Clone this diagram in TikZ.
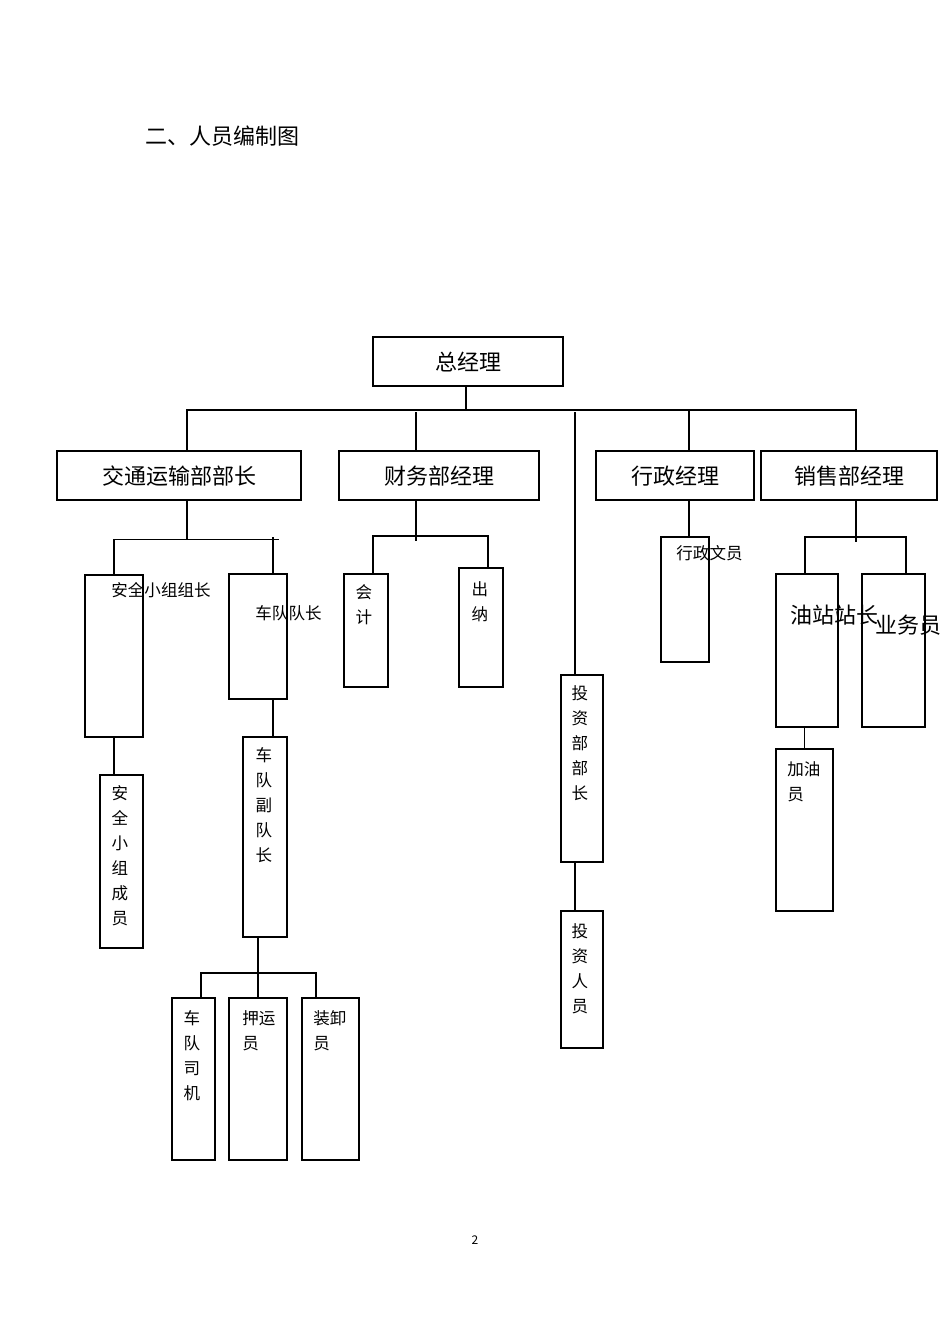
\documentclass[tikz,border=0pt]{standalone}
\usepackage{fontspec}
\setmainfont{Noto Sans CJK SC}
\newcommand{\bigf}{\fontsize{16.5}{20}\selectfont}
\newcommand{\smf}{\fontsize{12.4}{18.75}\selectfont}
\begin{document}
\begin{tikzpicture}[x=0.75pt,y=-0.75pt,
  box/.style 2 args={draw,line width=1pt,rectangle,inner sep=0pt,minimum width=#1*0.75pt,minimum height=#2*0.75pt},
  head/.style={font=\bigf,text height=1.45em,text depth=0.05em},
  lbl/.style={inner sep=0pt,font=\smf,align=center},
  big/.style={inner sep=0pt,font=\bigf},
  thn/.style={line width=0.8pt},
  thk/.style={line width=1.4pt}]
\fill[white] (0,0) rectangle (950,1344);
\useasboundingbox (0,0) rectangle (950,1344);
% title
\node[big,anchor=west] (title) at (145,136) {二、人员编制图};
% level 1
\node[box={190}{49},head] (zjl) at (468,361.5) {总经理};
% level 2
\node[box={244}{49},head] (jt) at (179,475.5) {交通运输部部长};
\node[box={200}{49},head] (cw) at (439,475.5) {财务部经理};
\node[box={158}{49},head] (xz) at (675,475.5) {行政经理};
\node[box={176}{49},head] (xs) at (849,475.5) {销售部经理};
% level 3 boxes
\node[box={58}{162}] (aqzz) at (114,656) {};
\node[box={58}{125}] (cdz) at (258,636.5) {};
\node[box={44}{113}] (kj) at (366,630.5) {};
\node[box={44}{119}] (cn) at (481,627.5) {};
\node[box={42}{187}] (tzbz) at (582,768.5) {};
\node[box={42}{137}] (tzry) at (582,979.5) {};
\node[box={48}{125}] (xzwy) at (685,599.5) {};
\node[box={62}{153}] (yzz) at (807,650.5) {};
\node[box={63}{153}] (ywy) at (893.5,650.5) {};
\node[box={57}{162}] (jyy) at (804.5,830) {};
\node[box={43}{173}] (aqcy) at (121.5,861.5) {};
\node[box={44}{200}] (cfdz) at (265,837) {};
\node[box={43}{162}] (cdsj) at (193.5,1079) {};
\node[box={58}{162}] (yyy) at (258,1079) {};
\node[box={57}{162}] (zxy) at (330.5,1079) {};
% labels
\node[lbl] (t-aqzz) at (161,590) {安全小组组长};
\node[lbl] (t-cdz) at (288.5,613) {车队队长};
\node[lbl] (t-kj) at (364,604.5) {会\\计};
\node[lbl] (t-cn) at (480,602) {出\\纳};
\node[lbl] (t-tzbz) at (580,743) {投\\资\\部\\部\\长};
\node[lbl] (t-tzry) at (580,969) {投\\资\\人\\员};
\node[lbl] (t-xzwy) at (709.5,553) {行政文员};
\node[big] (t-yzz) at (834,615) {油站站长};
\node[big] (t-ywy) at (908,625) {业务员};
\node[lbl,align=left,anchor=west] (t-jyy) at (787,781.5) {加油\\员};
\node[lbl] (t-aqcy) at (120,855.5) {安\\全\\小\\组\\成\\员};
\node[lbl] (t-cfdz) at (264,805) {车\\队\\副\\队\\长};
\node[lbl] (t-cdsj) at (192,1055.5) {车\\队\\司\\机};
\node[lbl,align=left,anchor=west] (t-yyy) at (242,1030.5) {押运\\员};
\node[lbl,align=left,anchor=west] (t-zxy) at (313,1030.5) {装卸\\员};
\node[inner sep=0pt,font=\fontsize{9}{10}\selectfont] (pg) at (475,1240) {2};
% connectors level 1 -> 2
\coordinate (bus) at (466,410);
\draw[thn] ([xshift=-1.5pt]zjl.south) -- (bus);
\draw[thn] ([xshift=6pt]jt.north) |- (bus) -| ([xshift=5.25pt]xs.north);
\draw[thn] ([xshift=-17.25pt]cw.north) -- ++(0,-38);
\draw[thk] ([xshift=10.5pt]xz.north) -- ++(0,-41);
\draw[thk] ([xshift=-5.25pt]tzbz.north) -- ++(0,-262);
\draw[thk] ([xshift=-5.25pt]tzbz.south) -- ([xshift=-5.25pt]tzbz.south |- tzry.north);
% 交通运输
\draw[thn] ([xshift=6pt]jt.south) -- ++(0,39);
\draw[thk] (aqzz.north) -- ++(0,-35);
\draw[thn] ([yshift=26.25pt]aqzz.north) -- ++(165,0);
\draw[thn] ([xshift=11.25pt]cdz.north) -- ++(0,-36);
\draw[thk] (aqzz.south) -- (aqzz.south |- aqcy.north);
\draw[thn] ([xshift=11.25pt]cdz.south) -- ([xshift=11.25pt]cdz.south |- cfdz.north);
\draw[thk] (yyy.north) -- (yyy.north |- cfdz.south);
\draw[thk] ([xshift=5.6pt]cdsj.north) -- ++(0,-24) -| ([xshift=-10.9pt]zxy.north);
% 财务
\draw[thn] ([xshift=-17.25pt]cw.south) -- ++(0,40);
\draw[thk] ([xshift=5.25pt]kj.north) -- ++(0,-37) -| ([xshift=5.25pt]cn.north);
% 行政
\draw[thk] ([xshift=10.5pt]xz.south) -- ([xshift=10.5pt]xz.south |- xzwy.north);
% 销售
\draw[thn] ([xshift=5.25pt]xs.south) -- ++(0,41);
\draw[thk] ([xshift=-1.5pt]yzz.north) -- ++(0,-36) -| ([xshift=9.4pt]ywy.north);
\draw[thk] (jyy.north) -- (jyy.north |- yzz.south);
\end{tikzpicture}
\end{document}
